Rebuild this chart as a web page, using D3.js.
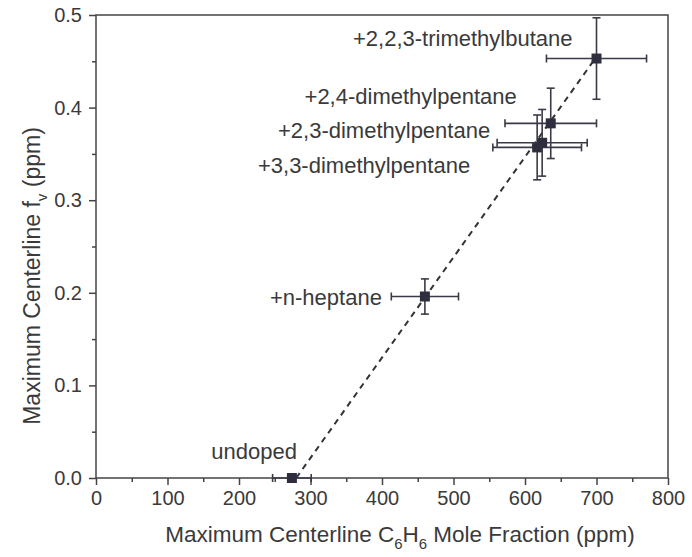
<!DOCTYPE html>
<html>
<head>
<meta charset="utf-8">
<script src="https://cdn.jsdelivr.net/npm/d3@7"></script>
<style>
  body { margin: 0; background: #fff; }
  text { font-family: "Liberation Sans", Arial, sans-serif; fill: #3a3a3a; }
</style>
</head>
<body>
<div id="chart"></div>
<script>
// data
const labels = ["undoped", "+n-heptane", "+3,3-dimethylpentane", "+2,3-dimethylpentane", "+2,4-dimethylpentane", "+2,2,3-trimethylbutane"];
const xVals = [274, 460, 617, 624, 636, 700];
const yVals = [0.0, 0.196, 0.357, 0.362, 0.383, 0.453];
const xErr = [27, 47, 62, 63, 64, 70];
const yErr = [0, 0.019, 0.035, 0.036, 0.038, 0.044];
const fitX = [280, 700];
const fitY = [0, 0.455];
const xTicks = [0, 100, 200, 300, 400, 500, 600, 700, 800];
const yTicks = [0.0, 0.1, 0.2, 0.3, 0.4, 0.5];

const width = 692, height = 557;
const margin = ({ top: 15, right: 24, bottom: 79, left: 96 });

const data = labels.map((l, i) => ({ label: l, x: xVals[i], y: yVals[i], ex: xErr[i], ey: yErr[i] }));

let svg = d3.select("#chart")
    .append("svg")
    .attr("width", width)
    .attr("height", height);

let x = d3.scaleLinear()
    .domain([0, 800])
    .range([margin.left, width - margin.right]);

let y = d3.scaleLinear()
    .domain([0, 0.5])
    .range([height - margin.bottom, margin.top]);

const axisColor = "#444";

// frame
svg.append("rect")
    .attr("x", x(0))
    .attr("y", y(0.5))
    .attr("width", x(800) - x(0))
    .attr("height", y(0) - y(0.5))
    .attr("fill", "none")
    .attr("stroke", axisColor)
    .attr("stroke-width", 1.5);

// bottom axis, major + minor ticks
svg.append("g")
    .attr("transform", `translate(0,${y(0)})`)
    .call(d3.axisBottom(x).tickValues(xTicks).tickSize(7).tickPadding(6).tickFormat(d3.format("d")));
svg.append("g")
    .attr("transform", `translate(0,${y(0)})`)
    .call(d3.axisBottom(x).tickValues(d3.range(50, 800, 100)).tickSize(4).tickFormat(""));

svg.append("g")
    .attr("transform", `translate(${x(0)},0)`)
    .call(d3.axisLeft(y).tickValues(yTicks).tickSize(7).tickPadding(7).tickFormat(d3.format(".1f")));
svg.append("g")
    .attr("transform", `translate(${x(0)},0)`)
    .call(d3.axisLeft(y).tickValues([0.05, 0.15, 0.25, 0.35, 0.45]).tickSize(4).tickFormat(""));

svg.selectAll(".domain").remove();
svg.selectAll(".tick line").attr("stroke", axisColor).attr("stroke-width", 1.5);
svg.selectAll(".tick text").style("font-size", "20px").attr("fill", "#3a3a3a");

// dashed fit line
svg.append("line")
    .attr("x1", x(fitX[0])).attr("y1", y(fitY[0]))
    .attr("x2", x(fitX[1])).attr("y2", y(fitY[1]))
    .attr("stroke", "#333")
    .attr("stroke-width", 2)
    .attr("stroke-dasharray", "6,5");

// error bars
let pt = svg.selectAll(".pt")
    .data(data)
    .join("g")
    .attr("class", "pt");

const cap = 4;
pt.append("line") // horizontal bar
    .attr("x1", d => x(d.x - d.ex)).attr("x2", d => x(d.x + d.ex))
    .attr("y1", d => y(d.y)).attr("y2", d => y(d.y))
    .attr("stroke", "#3a3a48").attr("stroke-width", 1.6);
pt.selectAll(".xcap")
    .data(d => [[d.x - d.ex, d.y], [d.x + d.ex, d.y]])
    .join("line")
    .attr("x1", d => x(d[0])).attr("x2", d => x(d[0]))
    .attr("y1", d => y(d[1]) - cap).attr("y2", d => y(d[1]) + cap)
    .attr("stroke", "#3a3a48").attr("stroke-width", 1.6);
pt.filter(d => d.ey > 0).append("line") // vertical bar
    .attr("x1", d => x(d.x)).attr("x2", d => x(d.x))
    .attr("y1", d => y(d.y - d.ey)).attr("y2", d => y(d.y + d.ey))
    .attr("stroke", "#3a3a48").attr("stroke-width", 1.6);
pt.filter(d => d.ey > 0).selectAll(".ycap")
    .data(d => [[d.x, d.y - d.ey], [d.x, d.y + d.ey]])
    .join("line")
    .attr("x1", d => x(d[0]) - cap).attr("x2", d => x(d[0]) + cap)
    .attr("y1", d => y(d[1])).attr("y2", d => y(d[1]))
    .attr("stroke", "#3a3a48").attr("stroke-width", 1.6);

// square markers
pt.append("rect")
    .attr("x", d => x(d.x) - 5)
    .attr("y", d => y(d.y) - 5)
    .attr("width", 10)
    .attr("height", 10)
    .attr("fill", "#2e2e3e");

// point labels (right end / baseline offset from the point)
const labelPos = [
    { dx: 5, dy: -19 },    // undoped
    { dx: -43, dy: 8 },    // n-heptane
    { dx: -67, dy: 26 },   // 3,3
    { dx: -52, dy: -5 },   // 2,3
    { dx: -34, dy: -19 },  // 2,4
    { dx: -24, dy: -13 }   // 2,2,3
];
pt.append("text")
    .attr("x", (d, i) => x(d.x) + labelPos[i].dx)
    .attr("y", (d, i) => y(d.y) + labelPos[i].dy)
    .attr("text-anchor", "end")
    .style("font-size", "22px")
    .text(d => d.label);

// x axis title
let xt = svg.append("text")
    .attr("x", 400)
    .attr("y", 542)
    .attr("text-anchor", "middle")
    .style("font-size", "22.5px");
xt.append("tspan").text("Maximum Centerline C");
xt.append("tspan").attr("dy", 7).style("font-size", "15px").text("6");
xt.append("tspan").attr("dy", -7).text("H");
xt.append("tspan").attr("dy", 7).style("font-size", "15px").text("6");
xt.append("tspan").attr("dy", -7).text(" Mole Fraction (ppm)");

// y axis title
let yt = svg.append("text")
    .attr("transform", `translate(40,276) rotate(-90)`)
    .attr("text-anchor", "middle")
    .style("font-size", "23px");
yt.append("tspan").text("Maximum Centerline f");
yt.append("tspan").attr("dy", 7).style("font-size", "15px").text("v");
yt.append("tspan").attr("dy", -7).text(" (ppm)");
</script>
</body>
</html>
